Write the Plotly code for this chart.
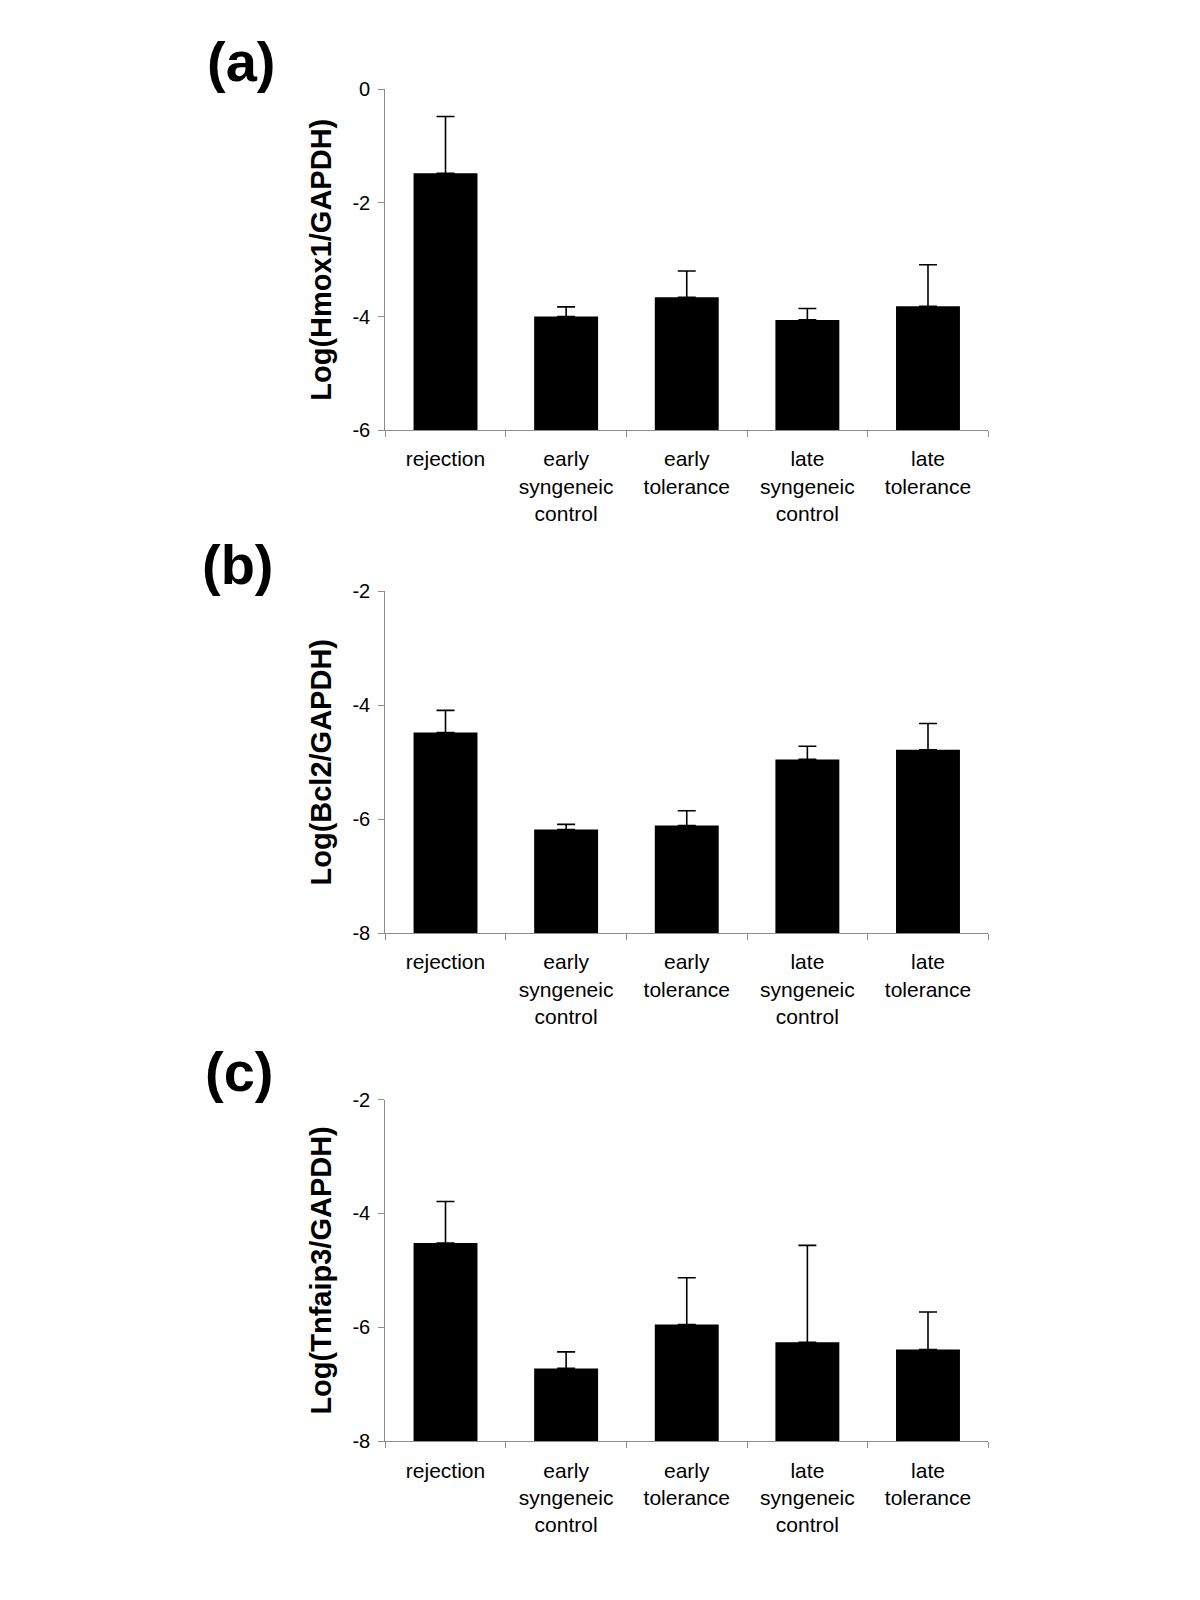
import plotly.graph_objects as go

categories = ["rejection", "early<br>syngeneic<br>control", "early<br>tolerance",
              "late<br>syngeneic<br>control", "late<br>tolerance"]

hmox1_mean = [-1.48, -4.00, -3.66, -4.06, -3.82]
hmox1_err = [1.00, 0.17, 0.46, 0.20, 0.73]

bcl2_mean = [-4.48, -6.18, -6.11, -4.95, -4.78]
bcl2_err = [0.39, 0.09, 0.26, 0.23, 0.46]

tnfaip3_mean = [-4.52, -6.72, -5.95, -6.26, -6.39]
tnfaip3_err = [0.73, 0.29, 0.82, 1.70, 0.66]

panels = [
    ("(a)", "Log(Hmox1/GAPDH)", hmox1_mean, hmox1_err, [-6, 0], [0, -2, -4, -6]),
    ("(b)", "Log(Bcl2/GAPDH)", bcl2_mean, bcl2_err, [-8, -2], [-2, -4, -6, -8]),
    ("(c)", "Log(Tnfaip3/GAPDH)", tnfaip3_mean, tnfaip3_err, [-8, -2], [-2, -4, -6, -8]),
]

W, H = 1200, 1600
OFF = 7.5  # page body offset
x_dom = [(384.7 - OFF) / W, (987.8 - OFF) / W]
y_px = [(88.8, 429.6), (590.8, 932.7), (1099.0, 1440.8)]
label_pos = [(240, 61), (237, 564), (238, 1071)]

FONT = "Liberation Sans, Arial, sans-serif"
AXIS_COLOR = "#8c8c8c"

fig = go.Figure()
layout = dict(
    width=W, height=H,
    paper_bgcolor="white", plot_bgcolor="white",
    margin=dict(l=0, r=0, t=0, b=0, autoexpand=False),
    showlegend=False,
    font=dict(family=FONT, color="black"),
    annotations=[],
)

for i, (lab, title, mean, err, rng, tv) in enumerate(panels):
    n = "" if i == 0 else str(i + 1)
    base = rng[0]
    fig.add_trace(go.Bar(
        x=categories,
        y=[m - base for m in mean],
        base=base,
        marker=dict(color="black", line=dict(width=0)),
        error_y=dict(type="data", symmetric=False, array=err,
                     arrayminus=[0] * len(err), color="black",
                     thickness=1.6, width=9),
        xaxis="x" + n, yaxis="y" + n,
        width=0.53,
    ))
    top, bot = y_px[i]
    layout["xaxis" + n] = dict(
        domain=x_dom, anchor="y" + n, type="category", automargin=False,
        showline=True, linecolor=AXIS_COLOR, linewidth=1,
        ticks="outside", tickson="boundaries", ticklen=6,
        tickcolor=AXIS_COLOR, tickwidth=1,
        ticklabelstandoff=10,
        tickfont=dict(size=21, family=FONT, color="black"),
        showgrid=False, zeroline=False, fixedrange=True,
    )
    layout["yaxis" + n] = dict(
        domain=[1 - (bot - OFF) / H, 1 - (top - OFF) / H], anchor="x" + n,
        automargin=False,
        range=rng, tickvals=tv, ticktext=[str(v) for v in tv],
        showline=True, linecolor=AXIS_COLOR, linewidth=1,
        ticks="outside", ticklen=6, tickcolor=AXIS_COLOR, tickwidth=1,
        ticklabelstandoff=4,
        tickfont=dict(size=20, family=FONT, color="black"),
        showgrid=False, zeroline=False,
        title=dict(text="<b>" + title + "</b>",
                   font=dict(size=29, family=FONT, color="black"),
                   standoff=12),
    )
    lx, ly = label_pos[i]
    layout["annotations"].append(dict(
        text="<b>" + lab + "</b>", x=(lx - OFF) / W, y=1 - (ly - OFF) / H,
        xref="paper", yref="paper", showarrow=False,
        xanchor="center", yanchor="middle",
        font=dict(size=56, family=FONT, color="black"),
    ))

fig.update_layout(**layout)
fig.write_html("out.html")
